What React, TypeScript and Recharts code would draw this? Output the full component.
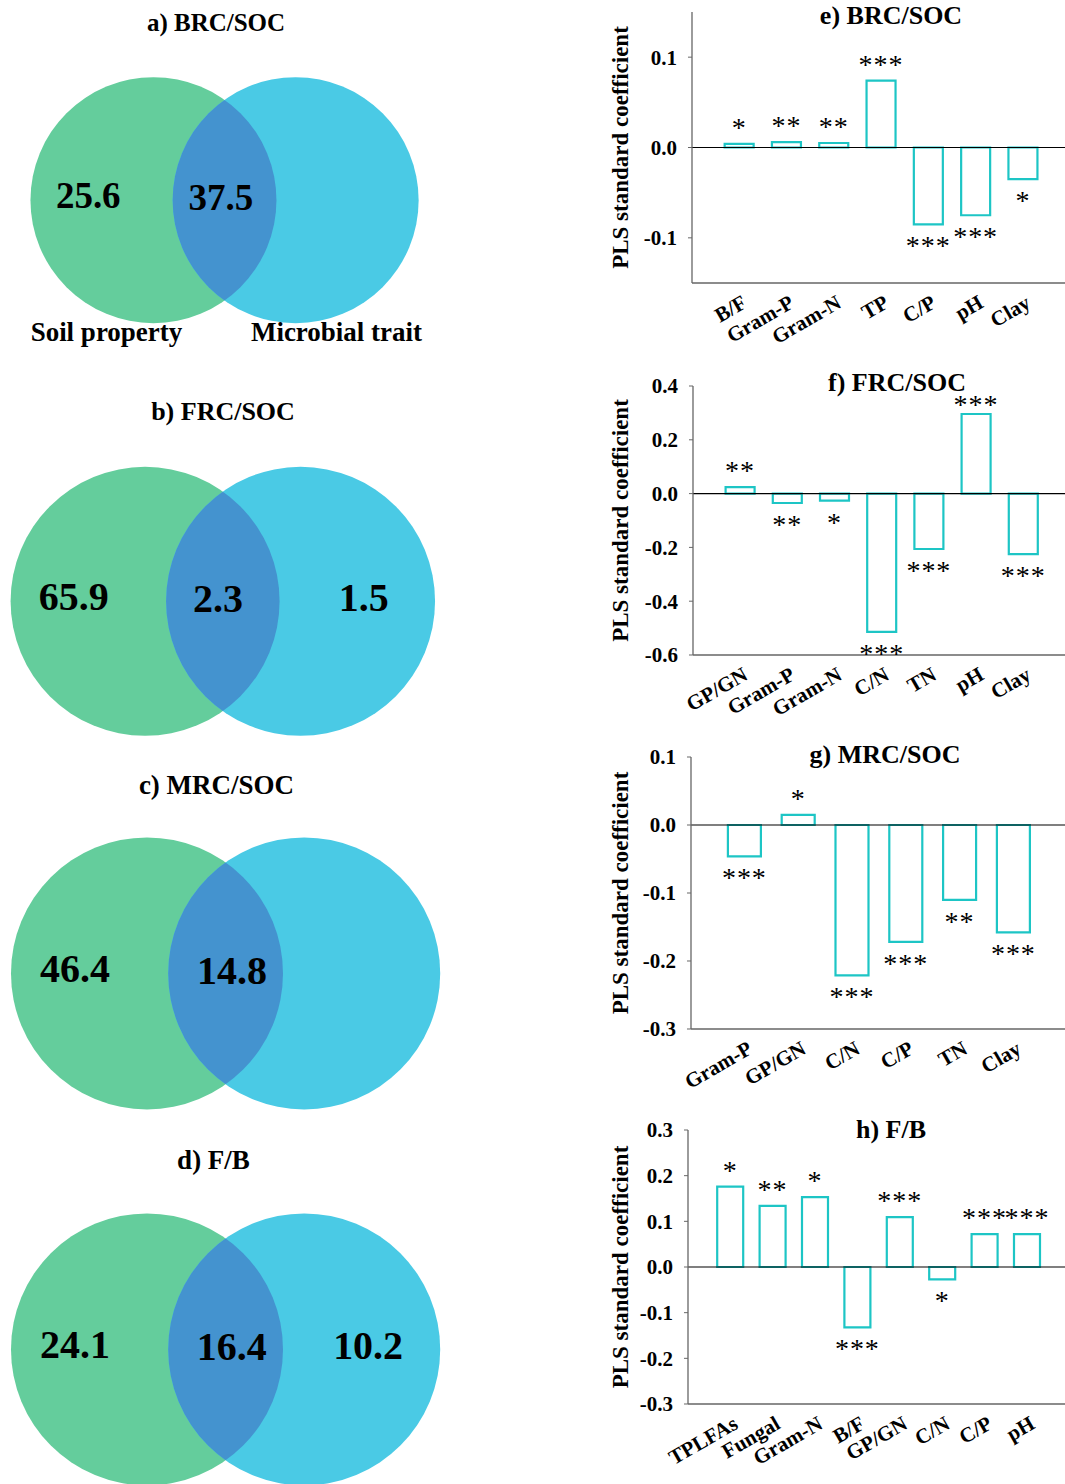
import React from "react";
import {
  BarChart,
  Bar,
  XAxis,
  YAxis,
  ReferenceLine,
  LabelList,
  ScatterChart,
  Scatter,
} from "recharts";

const FONT = '"Liberation Serif", "Times New Roman", serif';
const TEAL = "#1dc5c5";
const AXIS = "#666666";
const GREEN = "#64cd9c";
const BLUE = "#4acae5";
const OVERLAP = "#4493cf";

// Venn panels: variance explained (%)
const vennTitles = ["a) BRC/SOC", "b) FRC/SOC", "c) MRC/SOC", "d) F/B"];
const soilOnly = [25.6, 65.9, 46.4, 24.1];
const sharedPart = [37.5, 2.3, 14.8, 16.4];
const microbeOnly: (number | null)[] = [null, 1.5, null, 10.2];
const setNames = ["Soil property", "Microbial trait"];

// PLS standard coefficients
const eCats = ["B/F", "Gram-P", "Gram-N", "TP", "C/P", "pH", "Clay"];
const eVals = [0.004, 0.006, 0.005, 0.074, -0.085, -0.075, -0.035];
const eSig = ["*", "**", "**", "***", "***", "***", "*"];
const eTicks = [-0.1, 0, 0.1];

const fCats = ["GP/GN", "Gram-P", "Gram-N", "C/N", "TN", "pH", "Clay"];
const fVals = [0.024, -0.035, -0.026, -0.514, -0.206, 0.296, -0.225];
const fSig = ["**", "**", "*", "***", "***", "***", "***"];
const fTicks = [-0.6, -0.4, -0.2, 0, 0.2, 0.4];

const gCats = ["Gram-P", "GP/GN", "C/N", "C/P", "TN", "Clay"];
const gVals = [-0.046, 0.015, -0.221, -0.172, -0.11, -0.158];
const gSig = ["***", "*", "***", "***", "**", "***"];
const gTicks = [-0.3, -0.2, -0.1, 0, 0.1];

const hCats = ["TPLFAs", "Fungal", "Gram-N", "B/F", "GP/GN", "C/N", "C/P", "pH"];
const hVals = [0.176, 0.134, 0.153, -0.132, 0.109, -0.027, 0.072, 0.072];
const hSig = ["*", "**", "*", "***", "***", "*", "***", "***"];
const hTicks = [-0.3, -0.2, -0.1, 0, 0.1, 0.2, 0.3];

// layout of the panels on the page
const VENN_LAYOUT = [
  { midX: 224.5, midY: 200, r: 123, titleX: 216, titleY: 22, titleSize: 25, numSize: 37, sharedDx: -0.03 },
  { midX: 222.7, midY: 601, r: 134.5, titleX: 223, titleY: 412, titleSize: 26, numSize: 40, sharedDx: -0.035 },
  { midX: 225.8, midY: 973, r: 136, titleX: 216.5, titleY: 785, titleSize: 27, numSize: 40, sharedDx: 0.047 },
  { midX: 225.8, midY: 1349, r: 136, titleX: 213.5, titleY: 1160, titleSize: 27, numSize: 40, sharedDx: 0.046 },
];
const HALF = 0.578; // half distance between circle centres, in radii

const BAR_PANELS = [
  { title: "e) BRC/SOC", cats: eCats, vals: eVals, sig: eSig, ticks: eTicks, domain: [-0.15, 0.15],
    top: 12, plotH: 271, axisX: 692, band: 47.3, barSize: 29, titleX: 891, titleY: 16 },
  { title: "f) FRC/SOC", cats: fCats, vals: fVals, sig: fSig, ticks: fTicks, domain: [-0.6, 0.4],
    top: 386, plotH: 269, axisX: 693, band: 47.2, barSize: 29, titleX: 897, titleY: 383 },
  { title: "g) MRC/SOC", cats: gCats, vals: gVals, sig: gSig, ticks: gTicks, domain: [-0.3, 0.1],
    top: 757, plotH: 272, axisX: 691, band: 53.8, barSize: 33, titleX: 885, titleY: 755 },
  { title: "h) F/B", cats: hCats, vals: hVals, sig: hSig, ticks: hTicks, domain: [-0.3, 0.3],
    top: 1130, plotH: 274, axisX: 688, band: 42.4, barSize: 26, titleX: 891, titleY: 1130 },
];

function Title({ text, x, y, size }: { text: string; x: number; y: number; size: number }) {
  return (
    <div
      style={{
        position: "absolute",
        left: x - 150,
        top: y - size / 2,
        width: 300,
        textAlign: "center",
        fontSize: size,
        lineHeight: `${size}px`,
        fontWeight: 700,
        fontFamily: FONT,
        whiteSpace: "nowrap",
      }}
    >
      {text}
    </div>
  );
}

// eslint-disable-next-line @typescript-eslint/no-explicit-any
function CatTick(props: any) {
  const { x, y, payload } = props;
  const ax = x + 1;
  return (
    <text
      x={ax}
      y={y}
      dy="0.75em"
      textAnchor="end"
      transform={`rotate(-30 ${ax} ${y})`}
      fontSize={21}
      fontWeight={700}
      fontFamily={FONT}
      fill="#000"
    >
      {payload.value}
    </text>
  );
}

// eslint-disable-next-line @typescript-eslint/no-explicit-any
function SigLabel(props: any) {
  const vb = props.viewBox ?? props;
  const x = Number(props.x ?? vb.x);
  const y = Number(props.y ?? vb.y);
  const w = Number(props.width ?? vb.width);
  const h = Number(props.height ?? vb.height);
  const [s, sign] = String(props.value).split("|");
  const top = Math.min(y, y + h);
  const bottom = Math.max(y, y + h);
  // keep the stars of a tall bar under the panel title
  const ty = sign === "n" ? bottom + 31 : Math.max(top - 7, props.minY ?? 0);
  return (
    <text x={x + w / 2} y={ty} textAnchor="middle" fontSize={28} letterSpacing={1} fontFamily={FONT} fill="#000">
      {s}
    </text>
  );
}

// eslint-disable-next-line @typescript-eslint/no-explicit-any
function YLabel(props: any) {
  const vb = props.viewBox;
  const cx = vb.x + 21;
  const cy = vb.y + vb.height / 2;
  return (
    <text
      x={cx}
      y={cy}
      textAnchor="middle"
      dominantBaseline="central"
      transform={`rotate(-90 ${cx} ${cy})`}
      fontSize={23}
      fontWeight={700}
      fontFamily={FONT}
      fill="#000"
    >
      PLS standard coefficient
    </text>
  );
}

function BarPanel({ p }: { p: (typeof BAR_PANELS)[number] }) {
  const data = p.cats.map((c, i) => ({
    cat: c,
    v: p.vals[i],
    sigTag: `${p.sig[i]}|${p.vals[i] < 0 ? "n" : "p"}`,
  }));
  const left = 600;
  const mTop = 20;
  const xAxisH = 80;
  const yW = p.axisX - left;
  const width = yW + (p.cats.length + 1) * p.band;
  const height = mTop + p.plotH + xAxisH;
  return (
    <>
      <div style={{ position: "absolute", left, top: p.top - mTop }}>
        <BarChart width={width} height={height} data={data} margin={{ top: mTop, right: 0, bottom: 0, left: 0 }}>
          <XAxis
            dataKey="cat"
            height={xAxisH}
            padding={{ left: p.band / 2, right: p.band / 2 }}
            axisLine={{ stroke: AXIS, strokeWidth: 1.3 }}
            tickLine={false}
            tickSize={0}
            tickMargin={10}
            interval={0}
            tick={<CatTick />}
          />
          <YAxis
            width={yW}
            domain={p.domain}
            ticks={p.ticks}
            interval={0}
            allowDataOverflow
            tickFormatter={(v: number) => v.toFixed(1)}
            axisLine={{ stroke: AXIS, strokeWidth: 1.3 }}
            tickLine={{ stroke: AXIS }}
            tickSize={4}
            tickMargin={11}
            tick={{ fill: "#000", fontSize: 21, fontWeight: 700, fontFamily: FONT }}
            label={{ content: YLabel }}
          />
          <Bar dataKey="v" barSize={p.barSize} fill="#fff" stroke={TEAL} strokeWidth={2.2} isAnimationActive={false}>
            <LabelList
              dataKey="sigTag"
              // eslint-disable-next-line @typescript-eslint/no-explicit-any
              content={(lp: any) => <SigLabel {...lp} minY={mTop + 28} />}
            />
          </Bar>
          <ReferenceLine y={0} stroke="#000" strokeWidth={1.2} />
        </BarChart>
      </div>
      <Title text={p.title} x={p.titleX} y={p.titleY} size={26} />
    </>
  );
}

function VennPanel({ i }: { i: number }) {
  const L = VENN_LAYOUT[i];
  const spanX = 1.85;
  const spanY = 1.4;
  const w = 2 * spanX * L.r;
  const h = 2 * spanY * L.r;
  const soilPt = [{ x: -HALF, y: 0 }];
  const microPt = [{ x: HALF, y: 0 }];
  const labels: { x: number; y: number; t: string; size: number }[] = [
    { x: -HALF - 0.53, y: 0.04, t: String(soilOnly[i]), size: L.numSize },
    { x: L.sharedDx, y: 0.02, t: String(sharedPart[i]), size: L.numSize },
  ];
  if (microbeOnly[i] != null) {
    labels.push({ x: HALF + 0.47, y: 0.03, t: String(microbeOnly[i]), size: L.numSize });
  }
  if (i === 0) {
    labels.push({ x: -0.96, y: -1.07, t: setNames[0], size: 27 });
    labels.push({ x: 0.91, y: -1.07, t: setNames[1], size: 27 });
  }
  const clipId = `venn-clip-${i}`;
  return (
    <>
      <div style={{ position: "absolute", left: L.midX - w / 2, top: L.midY - h / 2 }}>
        <ScatterChart width={w} height={h} margin={{ top: 0, right: 0, bottom: 0, left: 0 }}>
          <XAxis type="number" dataKey="x" domain={[-spanX, spanX]} hide />
          <YAxis type="number" dataKey="y" domain={[-spanY, spanY]} hide />
          <Scatter
            data={soilPt}
            isAnimationActive={false}
            // eslint-disable-next-line @typescript-eslint/no-explicit-any
            shape={(s: any) => <circle cx={s.cx} cy={s.cy} r={L.r} fill={GREEN} />}
          />
          <Scatter
            data={microPt}
            isAnimationActive={false}
            // eslint-disable-next-line @typescript-eslint/no-explicit-any
            shape={(s: any) => (
              <g>
                <defs>
                  <clipPath id={clipId}>
                    <circle cx={s.cx} cy={s.cy} r={L.r} />
                  </clipPath>
                </defs>
                <circle cx={s.cx} cy={s.cy} r={L.r} fill={BLUE} />
              </g>
            )}
          />
          <Scatter
            data={soilPt}
            isAnimationActive={false}
            // eslint-disable-next-line @typescript-eslint/no-explicit-any
            shape={(s: any) => (
              <circle cx={s.cx} cy={s.cy} r={L.r} fill={OVERLAP} clipPath={`url(#${clipId})`} />
            )}
          />
          <Scatter
            data={labels}
            isAnimationActive={false}
            // eslint-disable-next-line @typescript-eslint/no-explicit-any
            shape={(s: any) => {
              const d = s.payload ?? s;
              return (
                <text
                  x={s.cx}
                  y={s.cy}
                  dy="0.34em"
                  textAnchor="middle"
                  fontSize={d.size}
                  fontWeight={700}
                  fontFamily={FONT}
                  fill="#000"
                >
                  {d.t}
                </text>
              );
            }}
          />
        </ScatterChart>
      </div>
      <Title text={vennTitles[i]} x={L.titleX} y={L.titleY} size={L.titleSize} />
    </>
  );
}

export default function App() {
  return (
    <div
      style={{
        position: "absolute",
        left: 0,
        top: 0,
        width: 1065,
        height: 1484,
        overflow: "hidden",
        background: "#fff",
        fontFamily: FONT,
      }}
    >
      {VENN_LAYOUT.map((_, i) => (
        <VennPanel key={i} i={i} />
      ))}
      {BAR_PANELS.map((p) => (
        <BarPanel key={p.title} p={p} />
      ))}
    </div>
  );
}
